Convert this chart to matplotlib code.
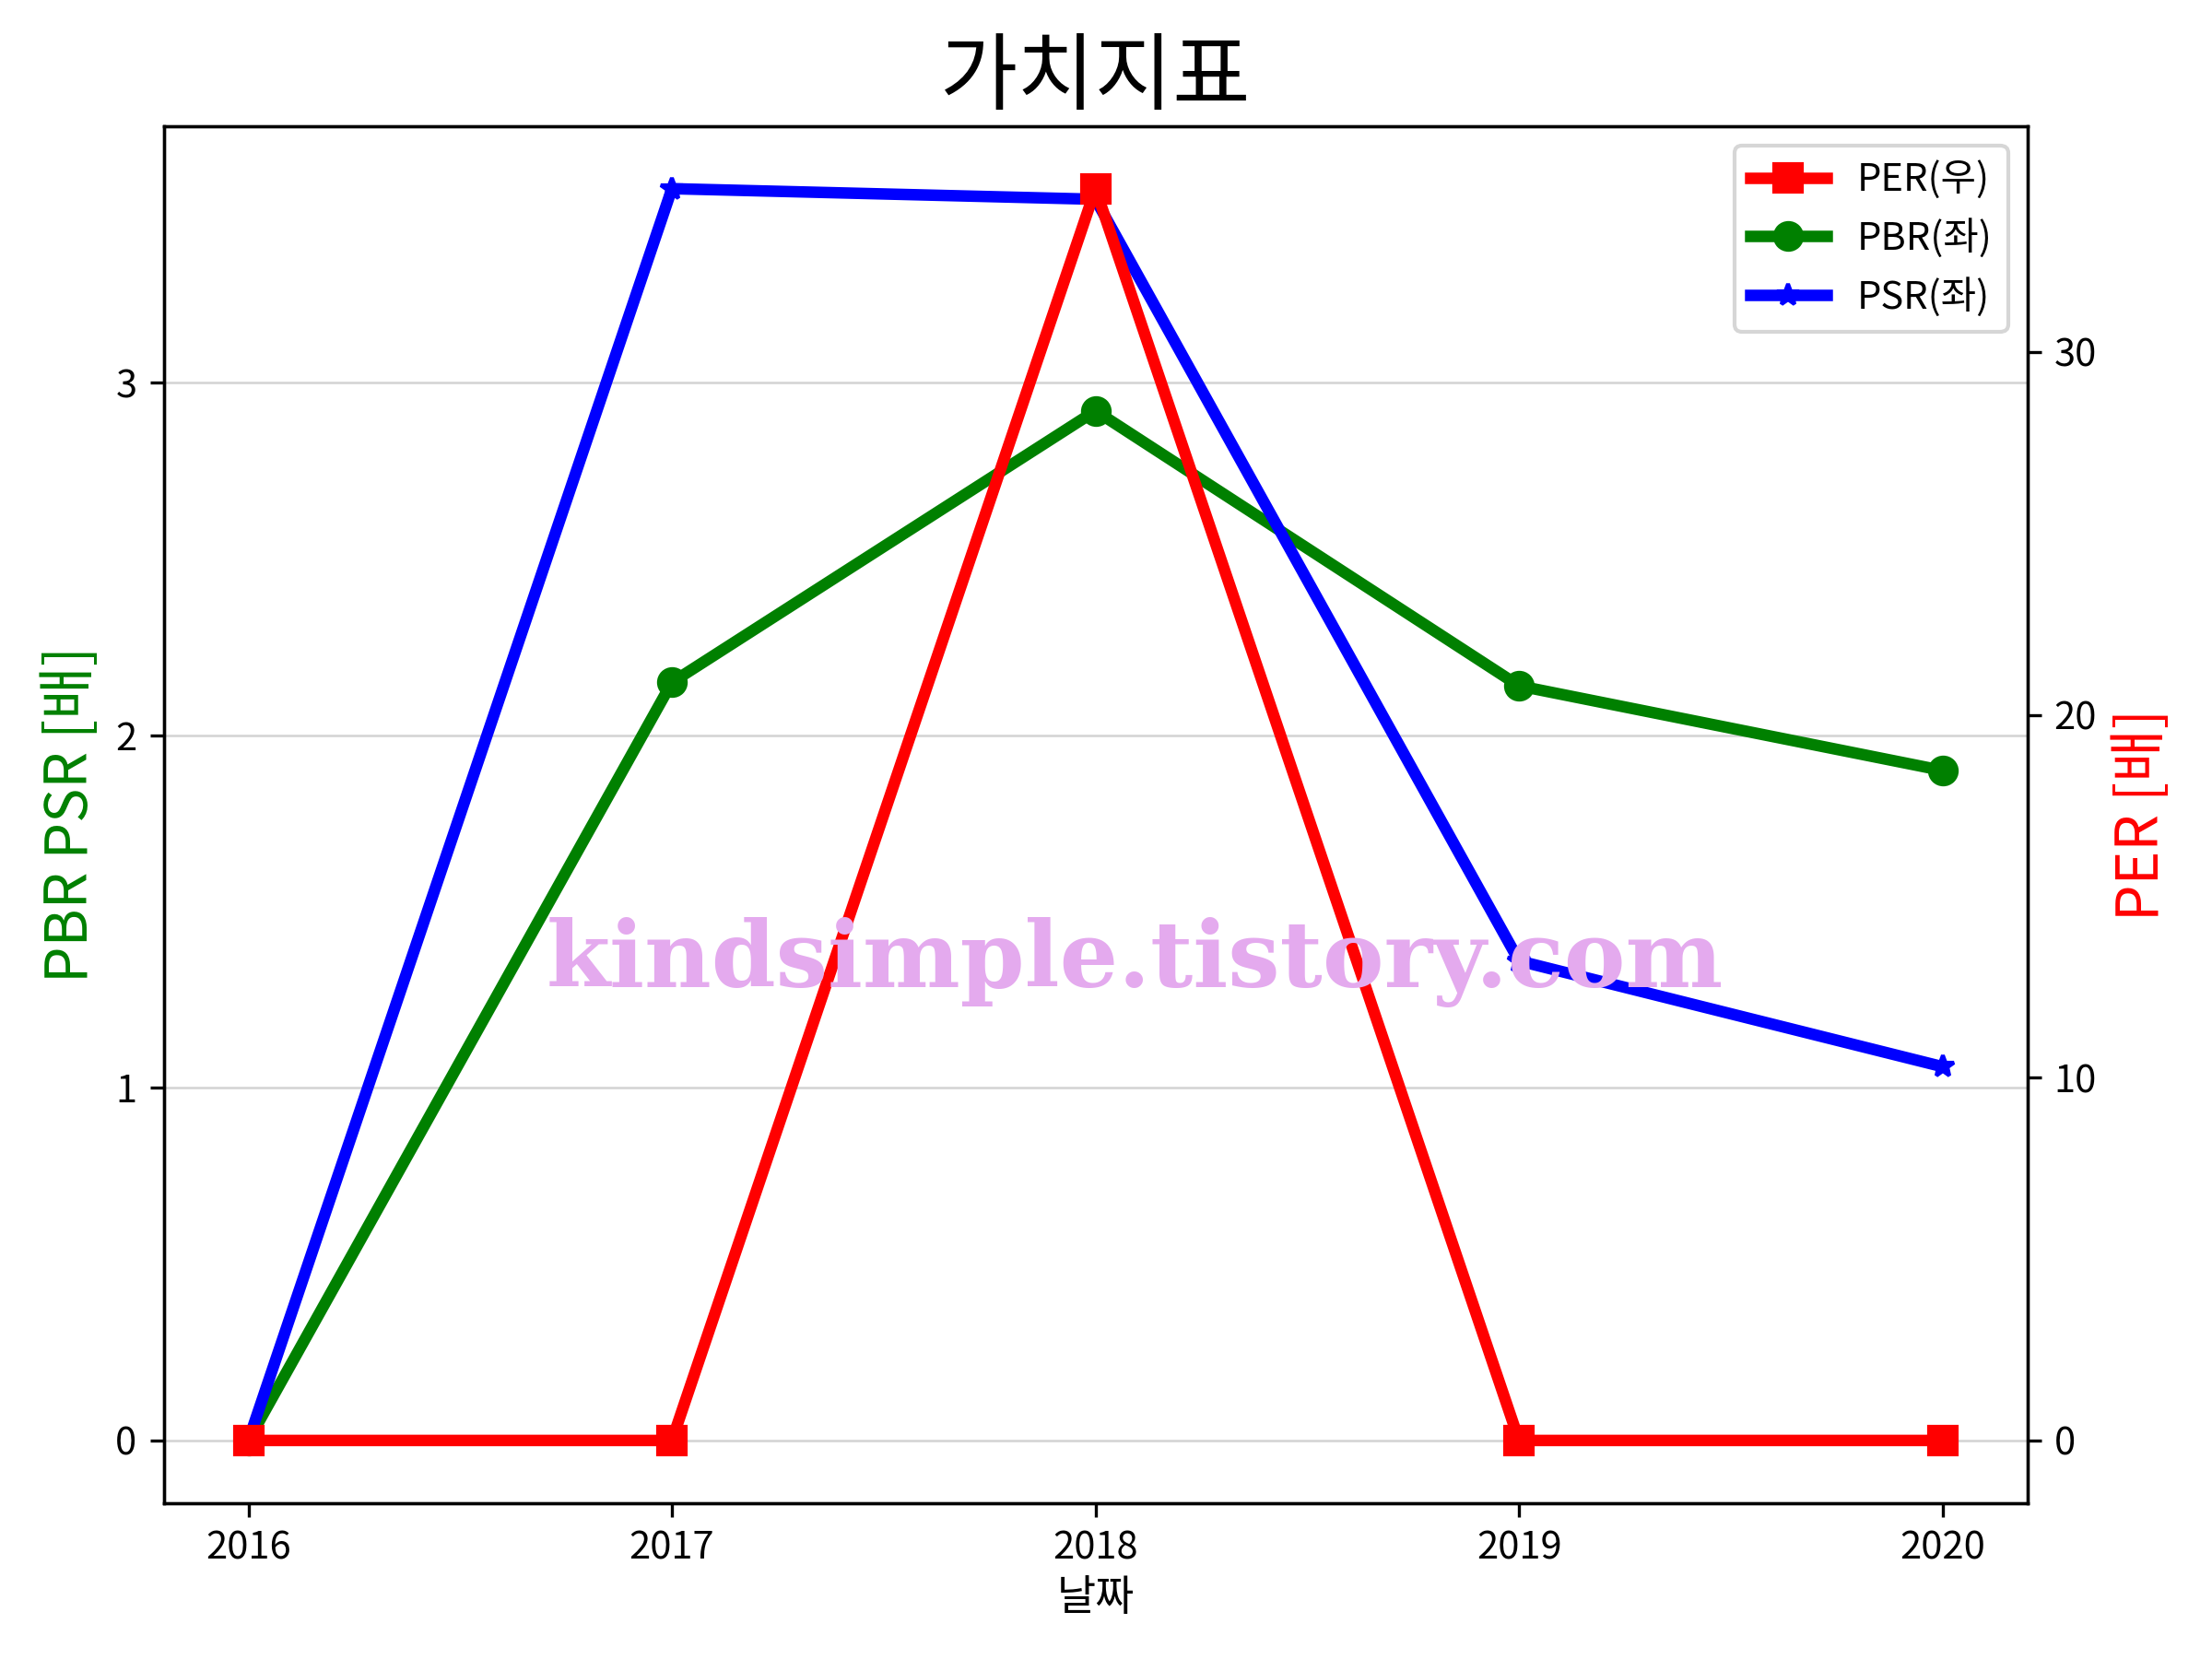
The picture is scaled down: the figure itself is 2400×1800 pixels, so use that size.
import matplotlib
matplotlib.use("Agg")
import matplotlib.pyplot as plt

plt.rcParams['font.family'] = ['Noto Sans CJK KR', 'DejaVu Sans']
plt.rcParams['axes.unicode_minus'] = False

years = ['2016', '2017', '2018', '2019', '2020']
per = [0, 0, 34.5, 0, 0]
pbr = [0, 2.15, 2.92, 2.14, 1.90]
psr = [0, 3.55, 3.52, 1.36, 1.06]

def main():
	fig = plt.figure(figsize=(8, 6), dpi=300)
	ax1 = fig.add_axes([0.074, 0.094, 0.8425, 0.830])
	ax2 = ax1.twinx()

	x = list(range(len(years)))
	l2, = ax1.plot(x, pbr, color='green', marker='o', lw=3, markersize=7, label='PBR(좌)')
	l3, = ax1.plot(x, psr, color='blue', marker='*', lw=3, markersize=6, label='PSR(좌)')
	l1, = ax2.plot(x, per, color='red', marker='s', lw=3, markersize=7, label='PER(우)')

	ax1.set_xticks(x)
	ax1.set_xticklabels(years)
	ax1.set_yticks([0, 1, 2, 3])
	ax2.set_yticks([0, 10, 20, 30])
	ax1.grid(axis='y', color='lightgray', lw=0.6)
	ax1.tick_params(labelsize=10)
	ax2.tick_params(labelsize=10)

	ax1.set_xlabel('날짜', fontsize=11, labelpad=2)
	ax1.set_ylabel('PBR PSR [배]', color='green', fontsize=15)
	ax2.set_ylabel('PER [배]', color='red', fontsize=15)
	ax1.set_title('가치지표', fontsize=22, pad=6)

	ax2.legend([l1, l2, l3], [l1.get_label(), l2.get_label(), l3.get_label()],
		loc='upper right', fontsize=10)

	# watermark
	fig.text(0.513, 0.42, 'kindsimple.tistory.com', color='#e4aaee',
		fontsize=24, fontweight='heavy', family='DejaVu Serif',
		ha='center', va='center', zorder=10)

	fig.savefig('out.png')

if __name__ == "__main__":
	main()
